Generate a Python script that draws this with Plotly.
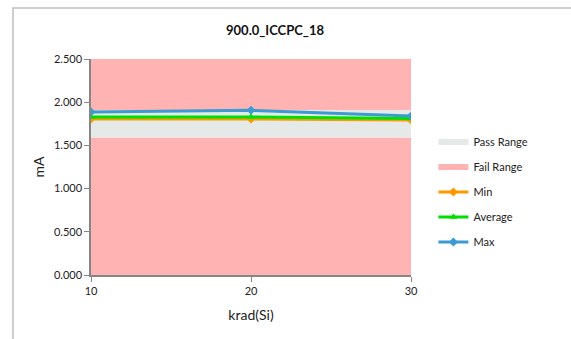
import plotly.graph_objects as go

x_vals = [10, 20, 30]
min_vals = [1.805, 1.805, 1.795]
avg_vals = [1.830, 1.830, 1.810]
max_vals = [1.887, 1.906, 1.840]
pass_low = [1.59, 1.59, 1.59]
pass_high = [1.91, 1.91, 1.91]
axis_top = [2.5, 2.5, 2.5]
y_ticks = [0, 0.5, 1.0, 1.5, 2.0, 2.5]

FAIL = "#FFB3B3"
PASS = "#E5EAE8"
font = "Lato, 'Liberation Sans', sans-serif"

fig = go.Figure()
# stacked areas: fail low, pass, fail high
fig.add_trace(go.Scatter(x=x_vals, y=pass_low, stackgroup="r", mode="none",
                         fillcolor=FAIL, name="Fail Range", showlegend=False,
                         hoverinfo="skip", legendgroup="g0"))
fig.add_trace(go.Scatter(x=x_vals, y=[h - l for h, l in zip(pass_high, pass_low)],
                         stackgroup="r", mode="none", fillcolor=PASS,
                         name="Pass Range", legendrank=1, legendgroup="g1"))
fig.add_trace(go.Scatter(x=x_vals, y=[t - h for t, h in zip(axis_top, pass_high)],
                         stackgroup="r", mode="none", fillcolor=FAIL,
                         name="Fail Range", legendrank=2, legendgroup="g2"))
fig.add_trace(go.Scatter(x=x_vals, y=min_vals, name="Min", mode="lines+markers",
                         line=dict(color="#FF9900", width=3),
                         marker=dict(symbol="diamond", size=7, color="#FF9900"),
                         legendrank=3, legendgroup="g3"))
fig.add_trace(go.Scatter(x=x_vals, y=avg_vals, name="Average", mode="lines+markers",
                         line=dict(color="#00E000", width=3),
                         marker=dict(symbol="triangle-up", size=7, color="#00E000"),
                         legendrank=4, legendgroup="g4"))
fig.add_trace(go.Scatter(x=x_vals, y=max_vals, name="Max", mode="lines+markers",
                         line=dict(color="#3C9AD2", width=3),
                         marker=dict(symbol="diamond", size=7, color="#3C9AD2"),
                         legendrank=5, legendgroup="g5"))

fig.update_layout(
    width=571, height=339,
    margin=dict(l=91, r=160, t=59, b=64),
    paper_bgcolor="white", plot_bgcolor="white",
    font=dict(family=font, size=11, color="#222222"),
    title=dict(text="<b>900.0_ICCPC_18</b>", x=(275) / 571, xanchor="center",
               y=1 - 30 / 339, yanchor="middle", font=dict(size=13, color="#111111")),
    legend=dict(x=1.07, y=(275 - 192) / 216, xanchor="left", yanchor="middle",
                font=dict(size=11), tracegroupgap=6, itemwidth=30,
                traceorder="grouped", bgcolor="rgba(0,0,0,0)"),
    xaxis=dict(range=[10, 30], tickvals=x_vals, showgrid=False, zeroline=False,
               showline=True, linecolor="#868686", linewidth=1.5,
               ticks="outside", ticklen=5, tickcolor="#868686",
               title=dict(text="krad(Si)", font=dict(size=14), standoff=14)),
    yaxis=dict(range=[0, 2.5], tickvals=y_ticks, tickformat=".3f", showgrid=False,
               zeroline=False, showline=True, linecolor="#868686", linewidth=1.5,
               ticks="outside", ticklen=5, tickcolor="#868686",
               title=dict(text="mA", font=dict(size=14), standoff=6)),
    shapes=[dict(type="rect", xref="paper", yref="paper",
                 x0=(13 - 91) / 320, x1=3, y0=-2, y1=(275 - 8) / 216,
                 line=dict(color="#BFBFBF", width=1.5), fillcolor="rgba(0,0,0,0)",
                 layer="below")],
)

fig.write_html("out.html", config={"displayModeBar": False},
               post_script="document.body.style.margin='0';document.body.style.overflow='hidden';")
